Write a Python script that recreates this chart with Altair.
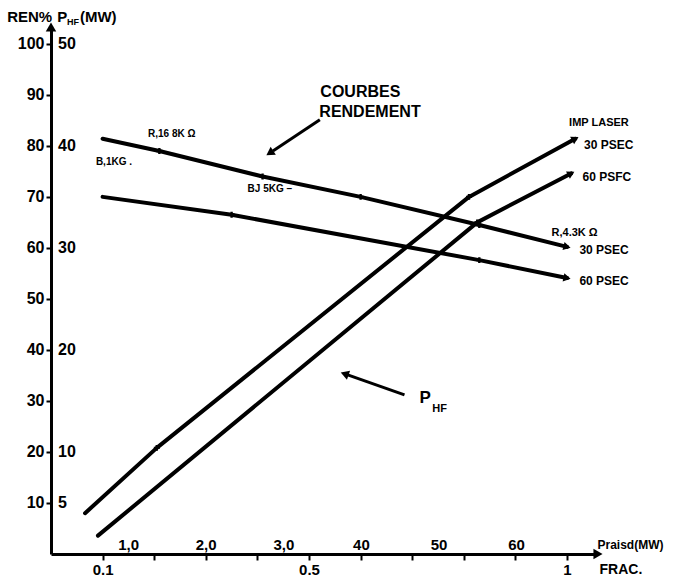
import math
import altair as alt
import pandas as pd

# ---- measured curves (x = fraction of full power) ----
# efficiency, %  (left scale)
rend_30_frac = [0.10, 0.21, 0.41, 0.60, 0.83, 1.00]
rend_30_val = [81.4, 79.0, 74.0, 70.0, 64.5, 60.2]
rend_60_frac = [0.10, 0.35, 0.83, 1.00]
rend_60_val = [70.0, 66.5, 57.6, 54.1]
# HF power, MW (right scale, 1 MW = 2 %)
phf_30_frac = [0.066, 0.205, 0.81, 1.016]
phf_30_mw = [4.0, 10.4, 35.0, 40.7]
phf_60_frac = [0.091, 0.826, 1.008]
phf_60_mw = [1.8, 32.5, 37.3]

# axis tick labels
rend_ticks = [10, 20, 30, 40, 50, 60, 70, 80, 90, 100]
phf_ticks = [5, 10, 20, 30, 40, 50]
frac_ticks = [0.1, 0.2, 0.3, 0.4, 0.5, 0.6, 0.7, 0.8, 0.9, 1.0]
frac_labels = ["0.1", "0.5", "1"]
praisd_mw = [10, 20, 30, 40, 50, 60]
praisd_text = ["1,0", "2,0", "3,0", "40", "50", "60"]
PRAISD_FULL = 66.5  # MW at FRAC = 1

XMAX, YMAX = 1.06, 103.3
W, H = 547, 527
FONT = "Liberation Sans"

rows = []
for name, fr, vals in [("r30", rend_30_frac, rend_30_val),
                       ("r60", rend_60_frac, rend_60_val)]:
    for i, (f, v) in enumerate(zip(fr, vals)):
        rows.append(dict(series=name, i=i, frac=f, v=v))
for name, fr, mw in [("p30", phf_30_frac, phf_30_mw),
                     ("p60", phf_60_frac, phf_60_mw)]:
    for i, (f, p) in enumerate(zip(fr, mw)):
        rows.append(dict(series=name, i=i, frac=f, v=2 * p))
curves = pd.DataFrame(rows)

# arrowheads at the end of each curve, pointing along the last segment
end_rows = []
for name, g in curves.groupby("series"):
    g = g.sort_values("i")
    a, b = g.iloc[-2], g.iloc[-1]
    dx = (b.frac - a.frac) * W / XMAX
    dy = -(b.v - a.v) * H / YMAX
    end_rows.append(dict(frac=b.frac, v=b.v,
                         ang=math.degrees(math.atan2(dy, dx)) % 360))
ends = pd.DataFrame(end_rows)
last_i = curves.groupby("series")["i"].transform("max")
inner = curves[(curves["i"] > 0) & (curves["i"] < last_i)]

xs = alt.Scale(domain=[0, XMAX], nice=False, zero=False)
ys = alt.Scale(domain=[0, YMAX], nice=False, zero=False)

label_test = " || ".join(f"format(datum.value, '.1~f') == '{t}'" for t in frac_labels)
x_axis = alt.Axis(values=frac_ticks, title=None, grid=False,
                  labelExpr=f"({label_test}) ? format(datum.value, '.1~f') : ''",
                  labelFont=FONT, labelFontSize=15, labelFontWeight="bold",
                  labelColor="black", labelPadding=2, labelOverlap=False,
                  tickSize=6, tickWidth=2, tickColor="black",
                  domainWidth=3, domainColor="black")
y_axis = alt.Axis(values=rend_ticks, title=None, grid=False, format="d",
                  labelFont=FONT, labelFontSize=16, labelFontWeight="bold",
                  labelColor="black", labelPadding=2,
                  tickSize=5, tickWidth=2, tickColor="black",
                  domainWidth=3, domainColor="black")


def px():
    # every layer shares the same scales and the same axis definitions
    return dict(x=alt.X("frac:Q", scale=xs, axis=x_axis),
                y=alt.Y("v:Q", scale=ys, axis=y_axis))


lines = alt.Chart(curves).mark_line(
    color="black", strokeWidth=4, strokeCap="round", strokeJoin="round"
).encode(**px(), detail="series:N", order="i:Q")

end_pts = alt.Chart(ends).mark_point(
    shape="triangle-right", filled=True, color="black", size=70, opacity=1
).encode(**px(), angle=alt.Angle("ang:Q", scale=None))
inner_pts = alt.Chart(inner).mark_point(shape="cross", filled=True, color="black",
                                        size=35, opacity=1).encode(**px())

# right-hand P_HF scale labels sit on the same axis line
right_lbl = pd.DataFrame(dict(frac=[0.0] * len(phf_ticks),
                              v=[2 * p for p in phf_ticks],
                              t=[str(p) for p in phf_ticks]))
right_text = alt.Chart(right_lbl).mark_text(
    align="left", baseline="middle", dx=7, font=FONT, fontSize=16,
    fontWeight="bold", color="black"
).encode(**px(), text="t:N")

# Praisd labels above the horizontal axis
pr = pd.DataFrame(dict(frac=[m / PRAISD_FULL for m in praisd_mw],
                       v=[1.8] * len(praisd_mw), t=praisd_text))
pr_text = alt.Chart(pr).mark_text(
    align="center", baseline="middle", font=FONT, fontSize=15,
    fontWeight="bold", color="black"
).encode(**px(), text="t:N")

# axis arrowheads
heads = pd.DataFrame(dict(frac=[0.0, XMAX], v=[YMAX, 0.0],
                          shape=["triangle-up", "triangle-right"]))
head_pts = alt.Chart(heads).mark_point(filled=True, color="black", size=110, opacity=1).encode(
    **px(), shape=alt.Shape("shape:N", scale=None, legend=None))

# annotations: text, x (FRAC), y (%), font size
notes = [
    ("REN%", -0.085, 105.3, 15),
    ("P", 0.012, 105.3, 15),
    ("(MW)", 0.056, 105.3, 15),
    ("COURBES", 0.522, 90.6, 16),
    ("RENDEMENT", 0.520, 86.7, 16),
    ("IMP LASER", 1.004, 84.5, 11),
    ("30 PSEC", 1.033, 80.2, 12),
    ("60 PSFC", 1.030, 73.9, 12),
    ("R,4.3K Ω", 0.970, 62.9, 11),
    ("30 PSEC", 1.024, 59.6, 12),
    ("60 PSEC", 1.024, 53.5, 12),
    ("R,16 8K Ω", 0.188, 82.4, 10),
    ("B,1KG   .", 0.087, 76.9, 10),
    ("BJ 5KG  –", 0.381, 71.6, 10),
    ("FRAC.", 1.063, -3.1, 14),
    ("Praisd(MW)", 1.059, 1.8, 12),
    ("P", 0.714, 30.6, 17),
    ("HF", 0.031, 104.2, 9),
    ("HF", 0.739, 28.4, 11),
]
ann = pd.DataFrame(notes, columns=["t", "frac", "v", "size"])
ann_layers = []
for size, g in ann.groupby("size"):
    ann_layers.append(alt.Chart(g).mark_text(
        align="left", baseline="middle", font=FONT, fontSize=int(size),
        fontWeight="bold", color="black"
    ).encode(**px(), text="t:N"))

# pointer arrows: tail -> tip
arrows = pd.DataFrame(dict(
    name=["courbes", "courbes", "phf", "phf"],
    frac=[0.521, 0.430, 0.685, 0.575],
    v=[85.1, 79.0, 31.2, 35.1],
))
arrow_lines = alt.Chart(arrows).mark_line(color="black", strokeWidth=3).encode(
    **px(), detail="name:N")
tips = pd.DataFrame(dict(frac=[0.424, 0.569], v=[78.6, 35.3], ang=[236.6, 289.3]))
arrow_tips = alt.layer(*[
    alt.Chart(tips.iloc[[k]]).mark_point(shape="triangle-up", filled=True, color="black",
                                         size=90, opacity=1, angle=float(tips.ang[k])).encode(**px())
    for k in range(len(tips))
])

chart = alt.layer(
    lines, end_pts, inner_pts, right_text, pr_text, head_pts, arrow_lines, arrow_tips, *ann_layers
).properties(
    width=W, height=H,
    autosize=alt.AutoSizeParams(type="none"),
    padding={"left": 51, "top": 27, "right": 83, "bottom": 28},
    background="white",
).configure_view(stroke=None)

chart.save("out.html", embed_options={"renderer": "svg", "actions": False})
